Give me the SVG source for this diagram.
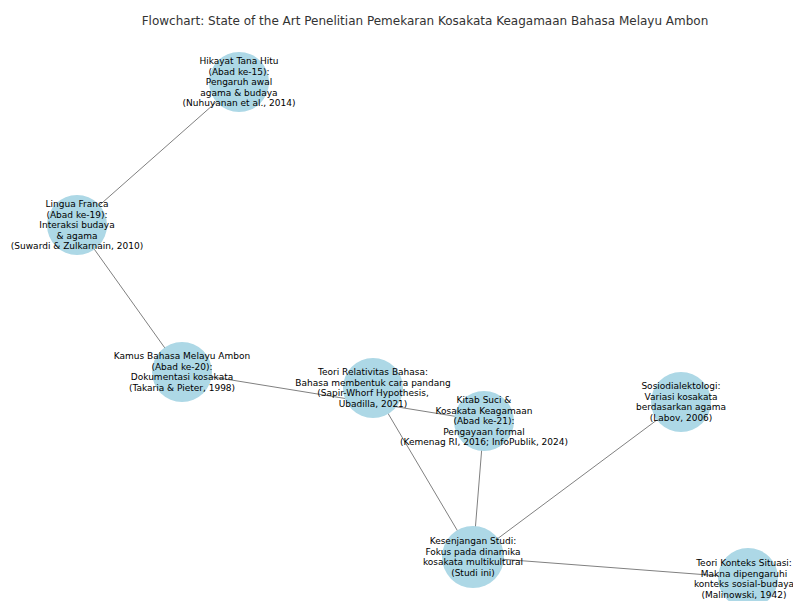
<svg xmlns="http://www.w3.org/2000/svg" width="793" height="601" viewBox="0 0 793 601">
<style>
.bg{fill:#ffffff}
.node circle{fill:#add8e6}
.node text{font-family:"DejaVu Sans",sans-serif;font-size:9px;fill:#000;text-anchor:middle}
.edges line{stroke:#808080;stroke-width:1}
.title{font-family:"DejaVu Sans",sans-serif;font-size:12px;fill:#333;text-anchor:middle}
</style>
<rect class="bg" x="0" y="0" width="793" height="601"/>
<text class="title" x="425" y="25">Flowchart: State of the Art Penelitian Pemekaran Kosakata Keagamaan Bahasa Melayu Ambon</text>
<g class="edges">
<line x1="239" y1="82" x2="77" y2="225"/>
<line x1="77" y1="225" x2="182" y2="372"/>
<line x1="182" y1="372" x2="484" y2="421"/>
<line x1="373" y1="388" x2="473" y2="557"/>
<line x1="484" y1="421" x2="473" y2="557"/>
<line x1="681" y1="402" x2="473" y2="557"/>
<line x1="473" y1="557" x2="748" y2="578"/>
</g>
<g class="node" id="n_hikayat">
<circle cx="239" cy="82" r="30"/>
<text x="239" y="64.2"><tspan x="239">Hikayat Tana Hitu</tspan><tspan x="239" dy="10.5">(Abad ke-15):</tspan><tspan x="239" dy="10.5">Pengaruh awal</tspan><tspan x="239" dy="10.5">agama &amp; budaya</tspan><tspan x="239" dy="10.5">(Nuhuyanan et al., 2014)</tspan></text>
</g>
<g class="node" id="n_lingua">
<circle cx="77" cy="225" r="30"/>
<text x="77" y="207.2"><tspan x="77">Lingua Franca</tspan><tspan x="77" dy="10.5">(Abad ke-19):</tspan><tspan x="77" dy="10.5">Interaksi budaya</tspan><tspan x="77" dy="10.5">&amp; agama</tspan><tspan x="77" dy="10.5">(Suwardi &amp; Zulkarnain, 2010)</tspan></text>
</g>
<g class="node" id="n_kamus">
<circle cx="182" cy="372" r="30"/>
<text x="182" y="359.4"><tspan x="182">Kamus Bahasa Melayu Ambon</tspan><tspan x="182" dy="10.5">(Abad ke-20):</tspan><tspan x="182" dy="10.5">Dokumentasi kosakata</tspan><tspan x="182" dy="10.5">(Takaria &amp; Pieter, 1998)</tspan></text>
</g>
<g class="node" id="n_relativitas">
<circle cx="373" cy="388" r="30"/>
<text x="373" y="375.4"><tspan x="373">Teori Relativitas Bahasa:</tspan><tspan x="373" dy="10.5">Bahasa membentuk cara pandang</tspan><tspan x="373" dy="10.5">(Sapir-Whorf Hypothesis,</tspan><tspan x="373" dy="10.5">Ubadilla, 2021)</tspan></text>
</g>
<g class="node" id="n_kitab">
<circle cx="484" cy="421" r="30"/>
<text x="484" y="403.2"><tspan x="484">Kitab Suci &amp;</tspan><tspan x="484" dy="10.5">Kosakata Keagamaan</tspan><tspan x="484" dy="10.5">(Abad ke-21):</tspan><tspan x="484" dy="10.5">Pengayaan formal</tspan><tspan x="484" dy="10.5">(Kemenag RI, 2016; InfoPublik, 2024)</tspan></text>
</g>
<g class="node" id="n_sosio">
<circle cx="681" cy="402" r="30"/>
<text x="681" y="389.4"><tspan x="681">Sosiodialektologi:</tspan><tspan x="681" dy="10.5">Variasi kosakata</tspan><tspan x="681" dy="10.5">berdasarkan agama</tspan><tspan x="681" dy="10.5">(Labov, 2006)</tspan></text>
</g>
<g class="node" id="n_kesenjangan">
<circle cx="473" cy="557" r="31"/>
<text x="473" y="544.4"><tspan x="473">Kesenjangan Studi:</tspan><tspan x="473" dy="10.5">Fokus pada dinamika</tspan><tspan x="473" dy="10.5">kosakata multikultural</tspan><tspan x="473" dy="10.5">(Studi ini)</tspan></text>
</g>
<g class="node" id="n_konteks">
<circle cx="748" cy="578" r="30"/>
<text x="744" y="566.4"><tspan x="744">Teori Konteks Situasi:</tspan><tspan x="744" dy="10.5">Makna dipengaruhi</tspan><tspan x="744" dy="10.5">konteks sosial-budaya</tspan><tspan x="744" dy="10.5">(Malinowski, 1942)</tspan></text>
</g>
</svg>
